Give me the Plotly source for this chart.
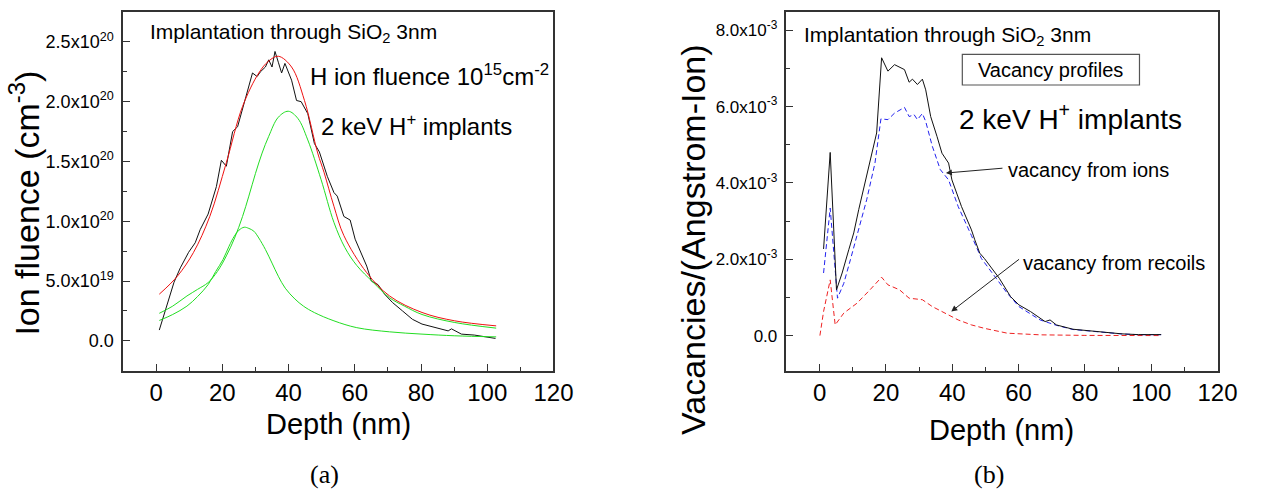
import numpy as np
import plotly.graph_objects as go

W, H = 1271, 491

# ---------------- (a) H implant profile and its two-peak fit ----------------
depth_meas = [0.95, 2.9, 5.4, 7.3, 9.8, 11.8, 13.3, 15.7, 18.2, 19.7, 21.2, 23.1, 24.6,
              27.1, 29.1, 30.5, 31.5, 33.0, 34.0, 35.0, 35.9, 36.9, 37.9, 38.9, 40.9,
              42.4, 43.8, 45.8, 47.8, 49.3, 51.7, 53.7, 54.7, 56.7, 58.6, 60.1, 61.6,
              63.6, 65.0, 67.0, 69.0, 71.4, 74.4, 77.4, 80.3, 84.3, 88.2, 89.2, 92.2,
              96.1, 99.1, 102.5]
fluence_meas = [0.09, 0.26, 0.49, 0.61, 0.74, 0.82, 0.93, 1.06, 1.29, 1.51, 1.46, 1.75, 1.79,
                2.04, 2.24, 2.21, 2.25, 2.29, 2.35, 2.29, 2.42, 2.33, 2.24, 2.32, 2.18,
                2.01, 2.00, 1.90, 1.65, 1.58, 1.375, 1.24, 1.21, 1.04, 1.01, 0.85, 0.76,
                0.625, 0.50, 0.47, 0.39, 0.32, 0.25, 0.18, 0.14, 0.11, 0.083, 0.10, 0.056,
                0.048, 0.033, 0.02]  # x1e20 cm^-3

depth_fit = [0.95, 6.4, 11.3, 16.2, 21.2, 26.1, 31.0, 34.0, 36.9, 40.9, 44.8, 48.8,
             50.7, 53.7, 56.7, 63.6, 70.5, 80.3, 90.2, 102.7]
fluence_fit = [0.39, 0.54, 0.74, 1.04, 1.49, 1.96, 2.24, 2.34, 2.38, 2.29, 2.01, 1.57,
               1.41, 1.125, 0.88, 0.57, 0.375, 0.237, 0.167, 0.125]

depth_peak_deep = [0.95, 5.0, 9.3, 12.5, 15.7, 18.5, 21.2, 23.7, 26.1, 28.0, 30.0, 32.0,
                   34.0, 36.9, 39.9, 42.8, 45.8, 49.8, 53.7, 57.0, 60.6, 65.5, 70.5, 75.0,
                   80.3, 90.2, 102.7]
fluence_peak_deep = [0.23, 0.29, 0.375, 0.43, 0.487, 0.58, 0.71, 0.86, 1.04, 1.21, 1.40,
                     1.57, 1.71, 1.87, 1.92, 1.86, 1.68, 1.35, 0.99, 0.78, 0.63, 0.49,
                     0.36, 0.29, 0.22, 0.153, 0.106]

depth_peak_shallow = [0.95, 5.0, 9.3, 12.5, 15.7, 18.0, 20.2, 22.0, 23.6, 25.0, 26.6, 28.0,
                      29.5, 31.0, 33.0, 35.0, 36.9, 39.0, 41.9, 44.5, 47.8, 53.7, 60.6,
                      70.5, 80.3, 90.2, 102.7]
fluence_peak_shallow = [0.17, 0.22, 0.29, 0.37, 0.47, 0.58, 0.68, 0.79, 0.875, 0.925, 0.95,
                        0.94, 0.917, 0.86, 0.764, 0.65, 0.54, 0.44, 0.35, 0.29, 0.236,
                        0.167, 0.11, 0.075, 0.056, 0.042, 0.033]

FLUENCE_UNIT = 1e20

# ---------------- (b) vacancy profiles ----------------
depth_total = [1.2, 3.2, 5.1, 6.8, 8.8, 10.3, 11.8, 13.7, 15.7, 17.2, 18.7, 20.6, 22.6,
               25.6, 27.0, 28.0, 29.5, 31.0, 32.0, 33.5, 35.4, 36.9, 38.9, 39.9, 42.8,
               45.8, 46.8, 48.3, 49.7, 54.2, 57.6, 60.1, 63.6, 66.5, 68.0, 69.5, 71.4,
               76.4, 81.3, 86.2, 91.2, 96.1, 103.0]
vac_total = [2.27, 4.80, 1.20, 1.64, 2.25, 2.69, 3.30, 4.00, 4.70, 5.31, 7.28, 6.93, 7.10,
             6.97, 6.64, 6.72, 6.58, 6.72, 6.44, 5.74, 5.22, 4.78, 4.52, 4.08, 3.38,
             2.77, 2.51, 2.16, 2.02, 1.50, 1.02, 0.805, 0.63, 0.456, 0.367, 0.41, 0.28,
             0.167, 0.123, 0.079, 0.045, 0.026, 0.026]  # x1e-3

depth_ions = [1.2, 3.2, 5.4, 7.3, 9.3, 11.8, 14.2, 16.7, 18.5, 20.6, 22.6, 25.6, 27.0,
              28.5, 29.5, 31.0, 32.0, 34.0, 36.4, 38.9, 41.8, 45.8, 48.8, 56.6, 60.1,
              66.5, 71.4, 76.4, 81.3, 86.2, 91.2, 96.1, 103.0]
vac_ions = [1.64, 3.34, 0.98, 1.37, 1.99, 2.77, 3.56, 4.52, 5.68, 5.66, 5.83, 5.98, 5.74,
            5.79, 5.66, 5.82, 5.61, 4.96, 4.35, 4.08, 3.38, 2.62, 2.02, 1.11, 0.76,
            0.41, 0.27, 0.16, 0.12, 0.075, 0.042, 0.024, 0.024]

depth_recoils = [0.1, 1.2, 3.2, 4.7, 7.3, 11.3, 15.2, 18.7, 20.6, 24.1, 27.0, 31.0, 34.0,
                 37.9, 41.8, 45.8, 49.7, 56.6, 66.5, 80.0, 103.0]
vac_recoils = [0.0, 0.63, 1.46, 0.28, 0.59, 0.85, 1.20, 1.53, 1.33, 1.20, 0.98, 0.94, 0.76,
               0.59, 0.41, 0.28, 0.19, 0.063, 0.02, 0.005, 0.0]

VAC_UNIT = 1e-3

# tick labels
fluence_ticks = [0, 0.5e20, 1.0e20, 1.5e20, 2.0e20, 2.5e20]
fluence_ticktext = ["0.0", "5.0x10<sup>19</sup>", "1.0x10<sup>20</sup>",
                    "1.5x10<sup>20</sup>", "2.0x10<sup>20</sup>", "2.5x10<sup>20</sup>"]
vac_ticks = [0, 2e-3, 4e-3, 6e-3, 8e-3]
vac_ticktext = ["0.0", "2.0x10<sup>-3</sup>", "4.0x10<sup>-3</sup>",
                "6.0x10<sup>-3</sup>", "8.0x10<sup>-3</sup>"]
depth_ticks = [0, 20, 40, 60, 80, 100, 120]

SANS = "Liberation Sans, Arial, sans-serif"
SERIF = "Liberation Serif, Times New Roman, serif"
AX = "#333333"


def px_x(p):
    return p / W


def px_y(p):
    return 1 - p / H


fig = go.Figure()

# panel (a)
fig.add_trace(go.Scatter(x=depth_meas, y=np.array(fluence_meas) * FLUENCE_UNIT,
                         mode="lines", line=dict(color="#111111", width=1),
                         xaxis="x", yaxis="y", name="SRIM profile"))
fig.add_trace(go.Scatter(x=depth_peak_shallow, y=np.array(fluence_peak_shallow) * FLUENCE_UNIT,
                         mode="lines", line=dict(color="#22dd22", width=1, shape="spline", smoothing=1.0),
                         xaxis="x", yaxis="y", name="peak 1"))
fig.add_trace(go.Scatter(x=depth_peak_deep, y=np.array(fluence_peak_deep) * FLUENCE_UNIT,
                         mode="lines", line=dict(color="#22dd22", width=1, shape="spline", smoothing=1.0),
                         xaxis="x", yaxis="y", name="peak 2"))
fig.add_trace(go.Scatter(x=depth_fit, y=np.array(fluence_fit) * FLUENCE_UNIT,
                         mode="lines", line=dict(color="#ee1111", width=1, shape="spline", smoothing=1.0),
                         xaxis="x", yaxis="y", name="fit"))

# panel (b)
fig.add_trace(go.Scatter(x=depth_recoils, y=np.array(vac_recoils) * VAC_UNIT,
                         mode="lines", line=dict(color="#ee2222", width=1, dash="5px,3px"),
                         xaxis="x2", yaxis="y2", name="vacancy from recoils"))
fig.add_trace(go.Scatter(x=depth_ions, y=np.array(vac_ions) * VAC_UNIT,
                         mode="lines", line=dict(color="#2222ee", width=1, dash="5px,3px"),
                         xaxis="x2", yaxis="y2", name="vacancy from ions"))
fig.add_trace(go.Scatter(x=depth_total, y=np.array(vac_total) * VAC_UNIT,
                         mode="lines", line=dict(color="#111111", width=1),
                         xaxis="x2", yaxis="y2", name="total vacancies"))

common_x = dict(range=[-10, 120], tickmode="array", tickvals=depth_ticks,
                showline=True, linecolor=AX, linewidth=1.5, mirror=True,
                ticks="inside", ticklen=7, tickwidth=1.3, tickcolor=AX,
                minor=dict(ticks="inside", ticklen=4, tickwidth=1.2, tickcolor=AX,
                           tick0=0, dtick=10),
                showgrid=False, zeroline=False,
                tickfont=dict(family=SANS, size=24, color="black"),
                ticklabelstandoff=0)
common_y = dict(tickmode="array", showline=True, linecolor=AX, linewidth=1.5,
                mirror=True, ticks="inside", ticklen=7, tickwidth=1.3, tickcolor=AX,
                showgrid=False, zeroline=False, ticklabelstandoff=4)

fig.update_layout(
    width=W, height=H, margin=dict(l=0, r=0, t=0, b=0),
    paper_bgcolor="white", plot_bgcolor="white", showlegend=False,
    xaxis=dict(domain=[px_x(125), px_x(562.3)], anchor="y", **common_x),
    yaxis=dict(domain=[px_y(370.7), px_y(12)], anchor="x",
               range=[-0.25e20, 2.75e20], tickvals=fluence_ticks, ticktext=fluence_ticktext,
               tickfont=dict(family=SANS, size=18, color="black"),
               minor=dict(ticks="inside", ticklen=4, tickwidth=1.2, tickcolor=AX,
                          tick0=0, dtick=0.25e20),
               **common_y),
    xaxis2=dict(domain=[px_x(799), px_x(1237)], anchor="y2", **common_x),
    yaxis2=dict(domain=[px_y(370.7), px_y(12)], anchor="x2",
                range=[-0.92e-3, 8.48e-3], tickvals=vac_ticks, ticktext=vac_ticktext,
                tickfont=dict(family=SANS, size=17, color="black"),
                minor=dict(ticks="inside", ticklen=4, tickwidth=1.2, tickcolor=AX,
                           tick0=0, dtick=1e-3),
                **common_y),
)

annotations = []


def text_at(x, y, text, size, xanchor="left", family=SANS, angle=0, yanchor="middle"):
    annotations.append(dict(x=px_x(x), y=px_y(y), xref="paper", yref="paper",
                            text=text, showarrow=False, xanchor=xanchor, yanchor=yanchor,
                            textangle=angle, font=dict(family=family, size=size, color="black")))


# axis titles
text_at(344, 424, "Depth (nm)", 29, xanchor="center")
text_at(1018, 430, "Depth (nm)", 29, xanchor="center")
text_at(24, 203, "Ion fluence (cm<sup>-3</sup>)", 34, xanchor="center", angle=-90)
text_at(704, 239, "Vacancies/(Angstrom-Ion)", 34, xanchor="center", angle=-90)

# panel (a) notes
text_at(150, 33, "Implantation through SiO<sub>2</sub> 3nm", 21)
text_at(313, 75, "H ion fluence 10<sup>15</sup>cm<sup>-2</sup>", 24)
text_at(324, 125, "2 keV H<sup>+</sup> implants", 24)

# panel (b) notes
text_at(815, 36, "Implantation through SiO<sub>2</sub> 3nm", 21)
text_at(1067.7, 70, "Vacancy profiles", 20, xanchor="center")
text_at(972, 117, "2 keV H<sup>+</sup> implants", 28)
text_at(1022, 170, "vacancy from ions", 20)
text_at(1037, 263, "vacancy from recoils", 20)

# captions
text_at(330, 491, "(a)", 26, xanchor="center", family=SERIF, yanchor="bottom")
text_at(1005, 491, "(b)", 26, xanchor="center", family=SERIF, yanchor="bottom")

# arrows pointing at the curves
for tip, tail in [((38.1, 4.26e-3), (55.6, 4.39e-3)),
                  ((39.7, 0.63e-3), (60.6, 2.03e-3))]:
    annotations.append(dict(x=tip[0], y=tip[1], xref="x2", yref="y2",
                            ax=tail[0], ay=tail[1], axref="x2", ayref="y2",
                            text="", showarrow=True, arrowhead=2, arrowsize=1.2,
                            arrowwidth=1, arrowcolor="#222222", standoff=0))

fig.update_layout(annotations=annotations)

fig.add_shape(type="rect", xref="paper", yref="paper",
              x0=px_x(977.7), x1=px_x(1157.7), y0=px_y(85), y1=px_y(54.3),
              line=dict(color="#555555", width=1.2), fillcolor="rgba(0,0,0,0)")

fig.write_html("out.html")
